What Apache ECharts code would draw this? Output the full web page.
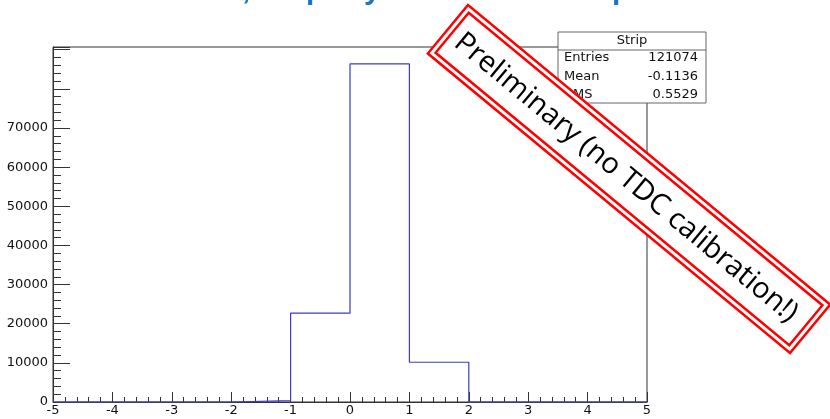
<!DOCTYPE html>
<html>
<head>
<meta charset="utf-8">
<script src="https://cdn.jsdelivr.net/npm/echarts@6/dist/echarts.min.js"></script>
<style>html,body{margin:0;padding:0;background:#fff}#c{width:830px;height:419px}</style>
</head>
<body>
<div id="c"></div>
<script>
// Histogram "Strip": left bin edges and counts (bin width 1)
const binLeftEdges = [-5, -4, -3, -2, -1, 0, 1, 2, 3, 4];
const binCounts    = [0, 0, 0, 330, 22700, 86370, 10150, 0, 0, 0];
const xRangeMax = 5;
const yMax = 90700;
const yLabelMaxShown = 70000;
const statsTitle = 'Strip';
const statsNames  = ['Entries', 'Mean', 'RMS'];
const statsValues = ['121074', '-0.1136', '0.5529'];
const stampText = 'Preliminary (no TDC calibration!)';
const titleFragments = [',', 'p', 'y', 'p'];
const titleFragmentX = [242, 306, 364, 612];

const stepData = binLeftEdges.map((x, i) => [x, binCounts[i]]);
stepData.push([xRangeMax, binCounts[binCounts.length - 1]]);

const chart = echarts.init(document.getElementById('c'), null, {renderer: 'canvas'});
const font = 'Liberation Sans, Arial, sans-serif';
const lblFont = '"DejaVu Sans", sans-serif';

const graphics = [];
// cut-off slide title fragments
titleFragments.forEach((t, i) => {
  graphics.push({
    type: 'text', left: titleFragmentX[i], top: -24, z: 50,
    style: {text: t, fill: '#1f74c8', font: 'bold 30px ' + font}
  });
});
// stats box
const sb = {x: 558, y: 32, w: 148, h: 71};
const statsChildren = [
  {type: 'rect', shape: {x: 0, y: 0, width: sb.w, height: sb.h}, style: {fill: '#fff', stroke: '#666', lineWidth: 1}},
  {type: 'line', shape: {x1: 0, y1: 18, x2: sb.w, y2: 18}, style: {stroke: '#666', lineWidth: 1}},
  {type: 'text', x: sb.w / 2, y: 9, style: {text: statsTitle, fill: '#111', font: '13px ' + lblFont, align: 'center', verticalAlign: 'middle'}}
];
statsNames.forEach((n, i) => {
  const yy = 26 + i * 18.5;
  statsChildren.push({type: 'text', x: 6, y: yy, style: {text: n, fill: '#111', font: '13px ' + lblFont, align: 'left', verticalAlign: 'middle'}});
  statsChildren.push({type: 'text', x: sb.w - 8, y: yy, style: {text: statsValues[i], fill: '#111', font: '13px ' + lblFont, align: 'right', verticalAlign: 'middle'}});
});
graphics.push({type: 'group', x: sb.x, y: sb.y, z: 60, children: statsChildren});
// red "Preliminary" stamp
const sw = 470, sh = 63;
graphics.push({
  type: 'group', x: 629, y: 179, rotation: -0.691, z: 100,
  children: [
    {type: 'rect', shape: {x: -sw / 2, y: -sh / 2, width: sw, height: sh}, style: {fill: '#fff', stroke: '#ff0000', lineWidth: 2.5}},
    {type: 'rect', shape: {x: -sw / 2 + 5.5, y: -sh / 2 + 5.5, width: sw - 11, height: sh - 11}, style: {fill: 'none', stroke: '#ff0000', lineWidth: 2.5}},
    {type: 'text', x: -3, y: 1, style: {text: stampText, fill: '#000', font: '29px "Open Sans", "Noto Sans", sans-serif', align: 'center', verticalAlign: 'middle'}}
  ]
});

chart.setOption({
  animation: false,
  backgroundColor: '#fff',
  grid: {left: 53, right: 183, top: 47, bottom: 17, show: true, borderColor: '#333', borderWidth: 1, backgroundColor: 'transparent'},
  xAxis: {
    type: 'value', min: -5, max: 5, interval: 1,
    axisLine: {show: true, onZero: false, lineStyle: {color: '#333', width: 1}},
    axisTick: {show: true, inside: true, length: 10, lineStyle: {color: '#333'}},
    minorTick: {show: true, splitNumber: 5, length: 5, lineStyle: {color: '#333'}},
    splitLine: {show: false},
    axisLabel: {color: '#111', fontSize: 13, fontFamily: lblFont, margin: 2, showMinLabel: true, showMaxLabel: true}
  },
  yAxis: {
    type: 'value', min: 0, max: yMax, interval: 10000,
    axisLine: {show: true, onZero: false, lineStyle: {color: '#333', width: 1}},
    axisTick: {show: true, inside: true, length: 17, lineStyle: {color: '#333'}},
    minorTick: {show: true, splitNumber: 5, length: 8, lineStyle: {color: '#333'}},
    splitLine: {show: false},
    axisLabel: {color: '#111', fontSize: 13, fontFamily: lblFont, margin: 5, showMaxLabel: false,
      formatter: v => (v > yLabelMaxShown ? '' : String(v))}
  },
  series: [{
    type: 'line', step: 'end', data: stepData, symbol: 'none',
    lineStyle: {color: '#3a3ad0', width: 1.2}, z: 5, clip: false
  }],
  graphic: graphics
});
</script>
</body>
</html>
